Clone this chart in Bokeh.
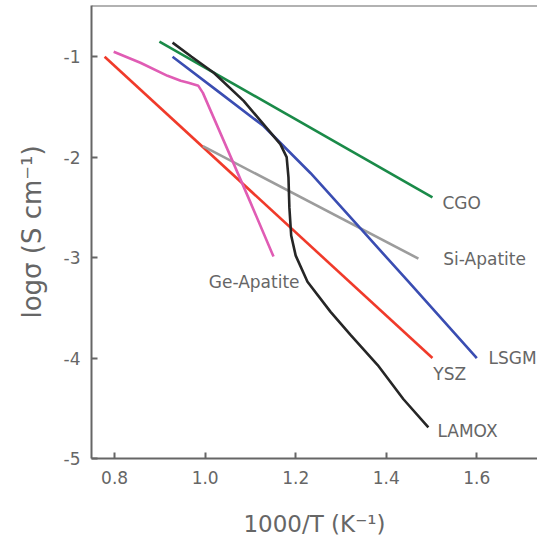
from bokeh.plotting import figure
from bokeh.models import Label, Span
from bokeh.embed import file_html
from bokeh.resources import INLINE

# ---- data ----
ysz_x = [0.778, 1.502]
ysz_y = [-1.0, -4.0]

cgo_x = [0.899, 1.502]
cgo_y = [-0.85, -2.40]

si_x = [0.995, 1.471]
si_y = [-1.89, -3.01]

lsgm_x = [0.928, 1.03, 1.129, 1.233, 1.343, 1.449, 1.600]
lsgm_y = [-1.00, -1.35, -1.69, -2.16, -2.71, -3.24, -4.00]

ge_x = [0.798, 0.857, 0.917, 0.946, 0.963, 0.985, 0.995, 1.05, 1.10, 1.151]
ge_y = [-0.95, -1.06, -1.19, -1.24, -1.26, -1.29, -1.36, -1.93, -2.45, -2.99]

lamox_x = [0.928, 0.97, 1.019, 1.085, 1.138, 1.166, 1.180, 1.184, 1.186, 1.190,
           1.200, 1.226, 1.277, 1.321, 1.381, 1.438, 1.493]
lamox_y = [-0.86, -1.00, -1.16, -1.44, -1.72, -1.87, -2.00, -2.20, -2.50, -2.78,
           -2.98, -3.24, -3.54, -3.77, -4.07, -4.41, -4.69]

series_names = ["YSZ", "CGO", "Si-Apatite", "LSGM", "Ge-Apatite", "LAMOX"]
label_x = [1.504, 1.524, 1.526, 1.626, 1.008, 1.513]
label_y = [-4.16, -2.46, -3.01, -4.00, -3.24, -4.73]

x_ticks = [0.8, 1.0, 1.2, 1.4, 1.6]
x_tick_labels = ["0.8", "1.0", "1.2", "1.4", "1.6"]
y_ticks = [-5, -4, -3, -2, -1]
y_tick_labels = ["-5", "-4", "-3", "-2", "-1"]

x_title = "1000/T (K\u207b\u00b9)"
y_title = "log\u03c3 (S cm\u207b\u00b9)"

FONT = "DejaVu Sans"
TXT = "#666666"
W, H = 537, 544
FL, FB = 91, 458  # frame left / bottom in canvas pixels

p = figure(width=W, height=H, x_range=(0.749, 1.734), y_range=(-5.0, -0.49),
           output_backend="svg", toolbar_location=None,
           min_border_left=FL, min_border_right=0, min_border_top=5, min_border_bottom=H - FB)
p.outline_line_color = None
p.xgrid.visible = False
p.ygrid.visible = False
p.background_fill_color = "white"

for ax in (p.xaxis[0], p.yaxis[0]):
    ax.axis_line_color = TXT
    ax.axis_line_width = 2
    ax.major_tick_line_color = TXT
    ax.major_tick_line_width = 2
    ax.major_tick_in = 6
    ax.major_tick_out = 0
    ax.minor_tick_line_color = None
    ax.major_label_text_font = FONT
    ax.major_label_text_font_size = "17px"
    ax.major_label_text_color = TXT
    ax.axis_label_text_font = FONT
    ax.axis_label_text_font_style = "normal"
    ax.axis_label_text_color = TXT

p.xaxis.ticker = x_ticks
p.xaxis.major_label_overrides = dict(zip(x_ticks, x_tick_labels))
p.xaxis.major_label_standoff = 12
p.xaxis.axis_label = x_title
p.xaxis.axis_label_text_font_size = "23px"
p.xaxis.axis_label_standoff = 24

p.yaxis.ticker = y_ticks
p.yaxis.major_label_overrides = dict(zip(y_ticks, y_tick_labels))
p.yaxis.major_label_standoff = 11
p.yaxis.axis_label = y_title
p.yaxis.axis_label_text_font_size = "26px"
p.yaxis.axis_label_standoff = 14

p.add_layout(Span(location=-0.49, dimension="width", line_color=TXT, line_width=2))

LW = 2.6
p.line(ysz_x, ysz_y, line_color="#f03a2a", line_width=LW)
p.line(cgo_x, cgo_y, line_color="#1a8a48", line_width=LW)
p.line(si_x, si_y, line_color="#9c9c9c", line_width=LW)
p.line(lsgm_x, lsgm_y, line_color="#3a4db2", line_width=LW)
p.line(ge_x, ge_y, line_color="#e05cb4", line_width=LW)
p.line(lamox_x, lamox_y, line_color="#262626", line_width=LW)

for name, lx, ly in zip(series_names, label_x, label_y):
    p.add_layout(Label(x=lx, y=ly, text=name, text_font=FONT, text_font_size="17px",
                       text_color=TXT, text_align="left", text_baseline="middle"))

open("out.html", "w").write(file_html(p, INLINE))
